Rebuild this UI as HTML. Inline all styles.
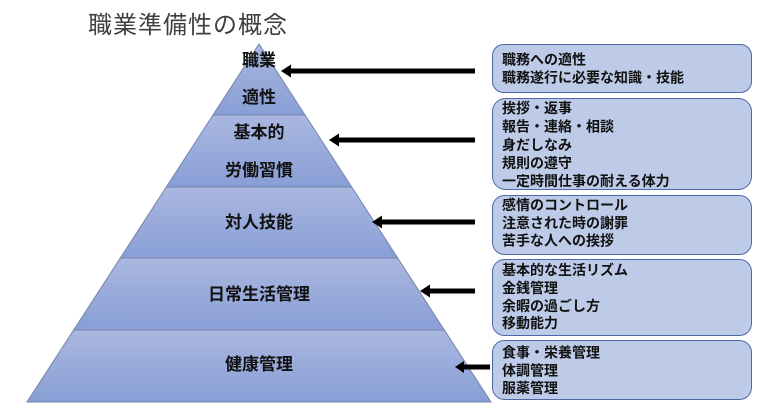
<!DOCTYPE html>
<html><head><meta charset="utf-8"><style>
html,body{margin:0;padding:0;background:#fff;width:783px;height:414px;overflow:hidden}
svg{display:block}
text{font-family:"Liberation Sans","Noto Sans CJK JP",sans-serif}
</style></head><body>
<svg width="783" height="414" viewBox="0 0 783 414" xmlns="http://www.w3.org/2000/svg">
<defs>
<linearGradient id="g" x1="0" y1="0" x2="0" y2="1">
<stop offset="0" stop-color="#aab8e0"/>
<stop offset="1" stop-color="#889ed5"/>
</linearGradient>
</defs>
<text x="88" y="33" font-size="24" fill="#404040" letter-spacing="1">職業準備性の概念</text>
<g stroke="#7585aa" stroke-width="1">
<polygon points="259,44 305,115 213,115" fill="url(#g)"/>
<polygon points="213,115 305,115 351.7,187 166.3,187" fill="url(#g)"/>
<polygon points="166.3,187 351.7,187 397.7,258 120.3,258" fill="url(#g)"/>
<polygon points="120.3,258 397.7,258 444.3,330 73.7,330" fill="url(#g)"/>
<polygon points="73.7,330 444.3,330 491,402 27,402" fill="url(#g)"/>
</g>
<g font-size="17" font-weight="bold" fill="#111" text-anchor="middle">
<text x="259" y="66">職業</text>
<text x="259" y="103">適性</text>
<text x="259" y="138">基本的</text>
<text x="259" y="176">労働習慣</text>
<text x="259" y="228">対人技能</text>
<text x="259" y="300">日常生活管理</text>
<text x="259" y="370">健康管理</text>
</g>
<g fill="#000">
<rect x="290" y="68.5" width="185" height="5"/><polygon points="281,71 291,64.5 291,77.5"/>
<rect x="338" y="137.5" width="137" height="5"/><polygon points="329,140 339,133.5 339,146.5"/>
<rect x="381" y="219.5" width="94" height="5"/><polygon points="372,222 382,215.5 382,228.5"/>
<rect x="429" y="288.5" width="46" height="5"/><polygon points="420,291 430,284.5 430,297.5"/>
<rect x="463" y="364.5" width="27" height="5"/><polygon points="455,367 464,361 464,373"/>
</g>
<g fill="#bdcbe8" stroke="#4d6aa6" stroke-width="1">
<rect x="492.5" y="44.5" width="259" height="48" rx="11"/>
<rect x="492.5" y="98.5" width="259" height="91" rx="13"/>
<rect x="492.5" y="195.5" width="259" height="59" rx="12"/>
<rect x="492.5" y="259.5" width="259" height="76" rx="12"/>
<rect x="492.5" y="340.5" width="259" height="59" rx="12"/>
</g>
<g font-size="14" font-weight="bold" fill="#111">
<text x="502" y="64.5">職務への適性</text>
<text x="502" y="82.5">職務遂行に必要な知識・技能</text>
<text x="502" y="113">挨拶・返事</text>
<text x="502" y="131.5">報告・連絡・相談</text>
<text x="502" y="150">身だしなみ</text>
<text x="502" y="168">規則の遵守</text>
<text x="502" y="186">一定時間仕事の耐える体力</text>
<text x="502" y="210">感情のコントロール</text>
<text x="502" y="228">注意された時の謝罪</text>
<text x="502" y="245.5">苦手な人への挨拶</text>
<text x="502" y="275">基本的な生活リズム</text>
<text x="502" y="293">金銭管理</text>
<text x="502" y="311">余暇の過ごし方</text>
<text x="502" y="328">移動能力</text>
<text x="502" y="357.5">食事・栄養管理</text>
<text x="502" y="375.5">体調管理</text>
<text x="502" y="393">服薬管理</text>
</g>
</svg>
</body></html>
